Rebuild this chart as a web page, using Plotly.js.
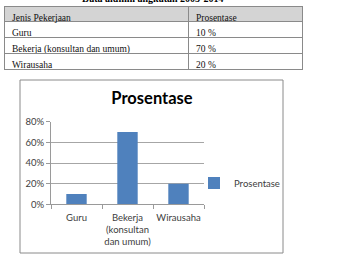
<!DOCTYPE html>
<html><head><meta charset="utf-8">
<script src="https://cdn.plot.ly/plotly-3.0.1.min.js"></script>
<style>html,body{margin:0;padding:0;background:#fff;}#c{width:364px;height:272px;}</style>
</head><body><div id="c"></div>
<script>
const tableHeader = ['Jenis Pekerjaan', 'Prosentase'];
const jobs = ['Guru', 'Bekerja (konsultan dan umum)', 'Wirausaha'];
const pctLabels = ['10 %', '70 %', '20 %'];
const chartCats = ['Guru', 'Bekerja<br>(konsultan<br>dan umum)', 'Wirausaha'];
const pct = [0.10, 0.70, 0.20];
const seriesName = 'Prosentase';
const chartTitle = 'Prosentase';
const docTitle = 'Data alumni angkatan 2005-2014';

const W = 364, H = 272;
const px = v => v / W, py = v => 1 - v / H;

const table = {
  type: 'table',
  domain: {x: [px(4), px(302)], y: [py(74), py(6)]},
  columnwidth: [184, 114],
  header: {
    values: tableHeader,
    align: 'left',
    height: 15,
    fill: {color: '#d4d4d4'},
    line: {color: '#8a8a8a', width: 1},
    font: {family: 'Liberation Serif', size: 9.5, color: '#111'}
  },
  cells: {
    values: [jobs, pctLabels],
    align: 'left',
    height: 16,
    fill: {color: '#ffffff'},
    line: {color: '#8a8a8a', width: 1},
    font: {family: 'Liberation Serif', size: 9.5, color: '#111'}
  }
};

const bars = {
  type: 'bar',
  x: chartCats,
  y: pct,
  name: seriesName,
  marker: {color: '#4f81bd'},
  showlegend: true,
  xaxis: 'x', yaxis: 'y'
};

const layout = {
  width: W, height: H,
  margin: {l: 0, r: 0, t: 0, b: 0},
  paper_bgcolor: '#fff', plot_bgcolor: '#fff',
  font: {family: 'Lato', size: 9.5, color: '#404040'},
  bargap: 0.6,
  title: {text: '<b>' + chartTitle + '</b>', x: px(152), y: py(98), xanchor: 'center', yanchor: 'middle',
          font: {family: 'Lato', size: 16.5, color: '#000'}},
  xaxis: {domain: [px(51), px(204)], showline: true, linecolor: '#9a9a9a', linewidth: 1, tickangle: 0,
          ticks: 'outside', ticklen: 4, tickcolor: '#9a9a9a', tickson: 'boundaries', ticklabelstandoff: 4,
          tickfont: {family: 'Lato', size: 9.5, color: '#404040'}, fixedrange: true},
  yaxis: {domain: [py(204.3), py(121.7)], range: [0, 0.8], dtick: 0.2, tickformat: '.0%',
          showline: true, linecolor: '#9a9a9a', linewidth: 1, ticks: 'outside', ticklen: 4, tickcolor: '#9a9a9a',
          showgrid: true, gridcolor: '#a6a6a6', gridwidth: 1, zeroline: false,
          tickfont: {family: 'Lato', size: 9.5, color: '#404040'}, fixedrange: true},
  legend: {x: px(194), y: py(183), xanchor: 'left', yanchor: 'middle', bgcolor: 'rgba(0,0,0,0)',
           font: {family: 'Lato', size: 9.5, color: '#404040'}, itemwidth: 30, tracegroupgap: 0},
  shapes: [{type: 'rect', xref: 'paper', yref: 'paper', x0: px(20), x1: px(283), y0: py(253), y1: py(80),
            line: {color: '#8a8a8a', width: 1}, fillcolor: 'rgba(0,0,0,0)', layer: 'below'}],
  annotations: [{text: '<b>' + docTitle + '</b>', xref: 'paper', yref: 'paper', x: px(152), y: py(-2),
                 xanchor: 'center', yanchor: 'middle', showarrow: false,
                 font: {family: 'Liberation Serif', size: 10, color: '#000'}}]
};

Plotly.newPlot('c', [table, bars], layout, {staticPlot: true, displayModeBar: false});
</script></body></html>
